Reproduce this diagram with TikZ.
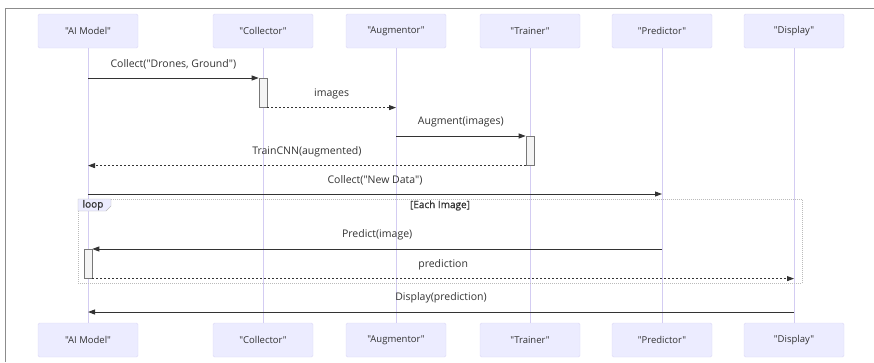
\documentclass[tikz,border=0pt]{standalone}
\usepackage{fontspec}
\setmainfont{Open Sans}[Ligatures=TeXOff]
\newfontfamily\loopfont{Open Sans}[Ligatures=TeXOff, FakeBold=1]
\usetikzlibrary{arrows.meta}
\definecolor{actorfill}{HTML}{ECECFF}
\definecolor{actorline}{HTML}{DCD8F6}
\definecolor{lifecol}{HTML}{D3CCF2}
\definecolor{msgcol}{HTML}{333333}
\definecolor{actfill}{HTML}{F4F4F4}
\definecolor{actcol}{HTML}{777777}
\definecolor{loopcol}{HTML}{BBBBBB}
\definecolor{framecol}{HTML}{8C8C8C}

\begin{document}
\begin{tikzpicture}[x=1pt, y=-1pt,
    actor/.style={draw=actorline, fill=actorfill, rounded corners=1.5pt,
        minimum width=100pt, minimum height=34pt, text=msgcol,
        font=\fontsize{9.5}{11}\selectfont},
    life/.style={draw=lifecol, line width=0.9pt},
    msg/.style={draw=msgcol, line width=0.9pt, -{Triangle[length=7pt,width=5pt]}},
    reply/.style={msg, dash pattern=on 2pt off 2pt},
    lbl/.style={text=msgcol, font=\fontsize{10.5}{12}\selectfont, midway, yshift=14pt},
    looptext/.style={text=msgcol, font=\loopfont\fontsize{10}{12}\selectfont},
    activ/.style={draw=actcol, fill=actfill, line width=0.6pt,
        minimum width=8pt, minimum height=29pt, inner sep=0pt, anchor=north}]
    \useasboundingbox (0,0) rectangle (874,362);
    \draw[framecol, line width=1pt] (5,362) -- (5,8) -- (874,8);

    % participants, top and bottom
    \node[actor] (ai)  at (88,31)  {"AI Model"};
    \node[actor] (col) at (263,31) {"Collector"};
    \node[actor] (aug) at (396,31) {"Augmentor"};
    \node[actor] (tra) at (530,31) {"Trainer"};
    \node[actor] (pre) at (662,31) {"Predictor"};
    \node[actor] (dis) at (794,31) {"Display"};
    \node[actor] (aiB)  at (88,340)  {"AI Model"};
    \node[actor] (colB) at (263,340) {"Collector"};
    \node[actor] (augB) at (396,340) {"Augmentor"};
    \node[actor] (traB) at (530,340) {"Trainer"};
    \node[actor] (preB) at (662,340) {"Predictor"};
    \node[actor] (disB) at (794,340) {"Display"};

    % lifelines
    \foreach \p in {ai,col,aug,tra,pre,dis}
        \draw[life] (\p.south) -- (\p B.north);

    % loop frame
    \draw[loopcol, line width=0.6pt, dash pattern=on 1pt off 1pt] (78,199) rectangle (802,283);
    \filldraw[draw=loopcol, fill=actorfill, line width=0.4pt] (78,199) -- (111,199) -- (111,206) -- (106,211) -- (78,211) -- cycle;
    \node[looptext] (looplbl) at (93,205) {loop};
    \node[looptext] (loopcond) at (440,205.5) {[Each Image]};

    % activations
    \node[activ] (actcol) at (col |- 0,78) {};
    \node[activ] (acttra) at (tra |- 0,136) {};
    \node[activ] (actai)  at (ai |- 0,249) {};

    % messages
    \draw[msg] (ai |- actcol.north) -- (actcol.north west) node[lbl] {Collect("Drones, Ground")};
    \draw[reply] (actcol.south east) -- (aug |- actcol.south) node[lbl] {images};
    \draw[msg] (aug |- acttra.north) -- (acttra.north west) node[lbl] {Augment(images)};
    \draw[reply] (acttra.south west) -- (ai |- acttra.south) node[lbl] {TrainCNN(augmented)};
    \draw[msg] (ai |- 0,194) -- (pre |- 0,194) node[lbl] {Collect("New Data")};
    \draw[msg] (pre |- actai.north) -- (actai.north east) node[lbl] {Predict(image)};
    \draw[reply] (actai.south east) -- (dis |- actai.south) node[lbl] {prediction};
    \draw[msg] (dis |- 0,312) -- (ai |- 0,312) node[lbl] {Display(prediction)};
\end{tikzpicture}
\end{document}
